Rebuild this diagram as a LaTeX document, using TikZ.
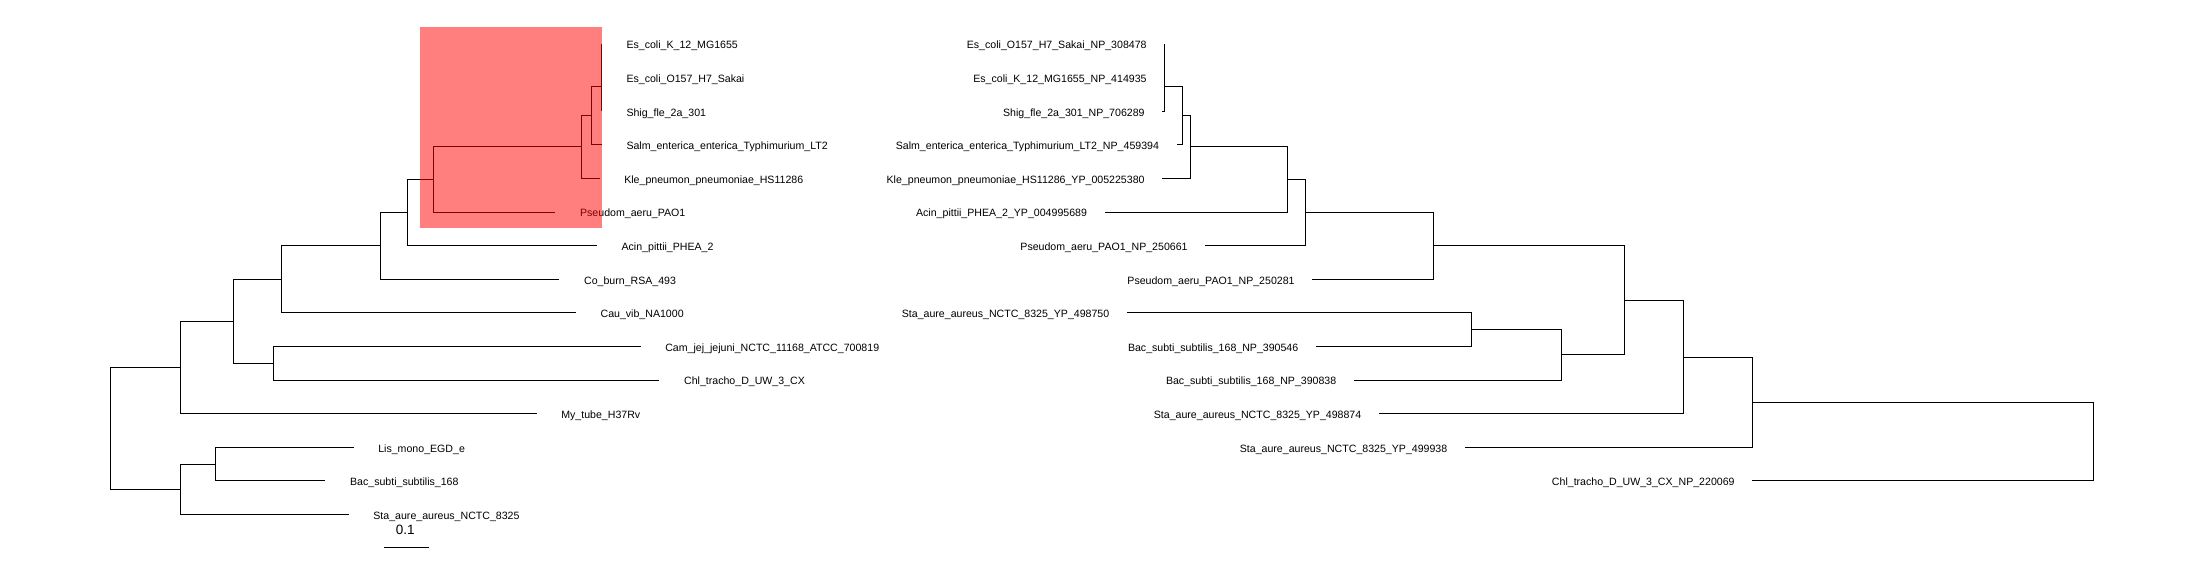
\documentclass[tikz,border=0pt]{standalone}
\usepackage{fontspec}
\setmainfont{Liberation Sans}
\usetikzlibrary{positioning}

\tikzset{
  branch/.style={line width=1pt},
  tiplabel/.style={inner sep=0pt, text height=7.6pt, text depth=0pt,
    font=\fontsize{10.6}{12}\selectfont},
}

\begin{document}
\begin{tikzpicture}[x=1pt, y=-1pt]
  % Drawing parameters
  \pgfmathsetmacro{\ytop}{44}
  \pgfmathsetmacro{\dy}{33.6}
  \pgfmathsetmacro{\gapl}{24.5}
  \pgfmathsetmacro{\gapr}{17.5}

  \useasboundingbox (0,0) rectangle (2200,579);

  % Left tree, tips
  \coordinate (ecoliK) at (601.8, \ytop);
  \coordinate (ecoliO) at (601.8, \ytop+\dy);
  \coordinate (shig) at (601.8, \ytop+2*\dy);
  \coordinate (salm) at (601.8, \ytop+3*\dy);
  \coordinate (kle) at (599.6, \ytop+4*\dy);
  \coordinate (pseudo) at (555.4, \ytop+5*\dy);
  \coordinate (acin) at (596.9, \ytop+6*\dy);
  \coordinate (coxb) at (559.4, \ytop+7*\dy);
  \coordinate (cauvib) at (575.9, \ytop+8*\dy);
  \coordinate (camjej) at (640.6, \ytop+9*\dy);
  \coordinate (chl) at (659.4, \ytop+10*\dy);
  \coordinate (mytub) at (536.6, \ytop+11*\dy);
  \coordinate (lismo) at (353.6, \ytop+12*\dy);
  \coordinate (bacsu) at (325.4, \ytop+13*\dy);
  \coordinate (staau) at (348.7, \ytop+14*\dy);

  % Left tree, inner nodes
  \coordinate (a1) at (601.8, 60.8);
  \coordinate (a2) at (601.8, 86);
  \coordinate (a3) at (591.5, 115.4);
  \coordinate (a4) at (581.3, 146.9);
  \coordinate (a5) at (433.5, 179.45);
  \coordinate (a6) at (407.6, 212.5);
  \coordinate (a7) at (380.4, 245.9);
  \coordinate (a8) at (281.3, 279.3);
  \coordinate (a9) at (273.7, 363.2);
  \coordinate (a10) at (233.5, 321.3);
  \coordinate (a11) at (180.4, 367.4);
  \coordinate (a12) at (215.6, 464);
  \coordinate (a13) at (180.4, 489.2);
  \coordinate (aroot) at (110.3, 428.3);

  \draw[branch] (a1) |- (ecoliK) (a1) |- (ecoliO);
  \draw[branch] (a2) |- (a1) (a2) |- (shig);
  \draw[branch] (a3) |- (a2) (a3) |- (salm);
  \draw[branch] (a4) |- (a3) (a4) |- (kle);
  \draw[branch] (a5) |- (a4) (a5) |- (pseudo);
  \draw[branch] (a6) |- (a5) (a6) |- (acin);
  \draw[branch] (a7) |- (a6) (a7) |- (coxb);
  \draw[branch] (a8) |- (a7) (a8) |- (cauvib);
  \draw[branch] (a9) |- (camjej) (a9) |- (chl);
  \draw[branch] (a10) |- (a8) (a10) |- (a9);
  \draw[branch] (a11) |- (a10) (a11) |- (mytub);
  \draw[branch] (a12) |- (lismo) (a12) |- (bacsu);
  \draw[branch] (a13) |- (a12) (a13) |- (staau);
  \draw[branch] (aroot) |- (a11) (aroot) |- (a13);

  \node[tiplabel, right=\gapl pt of ecoliK, yshift=-1pt] (ecoliK-txt) {Es\_coli\_K\_12\_MG1655};
  \node[tiplabel, right=\gapl pt of ecoliO, yshift=-1pt] (ecoliO-txt) {Es\_coli\_O157\_H7\_Sakai};
  \node[tiplabel, right=\gapl pt of shig, yshift=-1pt] (shig-txt) {Shig\_fle\_2a\_301};
  \node[tiplabel, right=\gapl pt of salm, yshift=-1pt] (salm-txt) {Salm\_enterica\_enterica\_Typhimurium\_LT2};
  \node[tiplabel, right=\gapl pt of kle, yshift=-1pt] (kle-txt) {Kle\_pneumon\_pneumoniae\_HS11286};
  \node[tiplabel, right=\gapl pt of pseudo, yshift=-1pt] (pseudo-txt) {Pseudom\_aeru\_PAO1};
  \node[tiplabel, right=\gapl pt of acin, yshift=-1pt] (acin-txt) {Acin\_pittii\_PHEA\_2};
  \node[tiplabel, right=\gapl pt of coxb, yshift=-1pt] (coxb-txt) {Co\_burn\_RSA\_493};
  \node[tiplabel, right=\gapl pt of cauvib, yshift=-1pt] (cauvib-txt) {Cau\_vib\_NA1000};
  \node[tiplabel, right=\gapl pt of camjej, yshift=-1pt] (camjej-txt) {Cam\_jej\_jejuni\_NCTC\_11168\_ATCC\_700819};
  \node[tiplabel, right=\gapl pt of chl, yshift=-1pt] (chl-txt) {Chl\_tracho\_D\_UW\_3\_CX};
  \node[tiplabel, right=\gapl pt of mytub, yshift=-1pt] (mytub-txt) {My\_tube\_H37Rv};
  \node[tiplabel, right=\gapl pt of lismo, yshift=-1pt] (lismo-txt) {Lis\_mono\_EGD\_e};
  \node[tiplabel, right=\gapl pt of bacsu, yshift=-1pt] (bacsu-txt) {Bac\_subti\_subtilis\_168};
  \node[tiplabel, right=\gapl pt of staau, yshift=-1pt] (staau-txt) {Sta\_aure\_aureus\_NCTC\_8325};

  % scale bar
  \coordinate (barL) at (383.9, 547.3);
  \coordinate (barR) at (428.6, 547.3);
  \draw[branch] (barL) -- (barR);
  \node[inner sep=0pt, font=\fontsize{13.5}{15}\selectfont] (bar-txt) at (405.3, 530.3) {0.1};

  % highlighted clade
  \fill[red, opacity=0.5] (420.1, 27) rectangle (601.8, 228);

  % Right tree, tips
  \coordinate (ecoliO2) at (1164.3, \ytop);
  \coordinate (ecoliK2) at (1164.3, \ytop+\dy);
  \coordinate (shig2) at (1162.3, \ytop+2*\dy);
  \coordinate (salm2) at (1176.7, \ytop+3*\dy);
  \coordinate (kle2) at (1162.3, \ytop+4*\dy);
  \coordinate (acin2) at (1104.7, \ytop+5*\dy);
  \coordinate (pseudoA) at (1205.3, \ytop+6*\dy);
  \coordinate (pseudoB) at (1312.3, \ytop+7*\dy);
  \coordinate (staauA) at (1127, \ytop+8*\dy);
  \coordinate (bacsuA) at (1316, \ytop+9*\dy);
  \coordinate (bacsuB) at (1354, \ytop+10*\dy);
  \coordinate (staauB) at (1379, \ytop+11*\dy);
  \coordinate (staauC) at (1465, \ytop+12*\dy);
  \coordinate (chl2) at (1752.3, \ytop+13*\dy);

  % Right tree, inner nodes
  \coordinate (b1) at (1164.3, 60.8);
  \coordinate (b2) at (1164.3, 86);
  \coordinate (b3) at (1182.3, 115.4);
  \coordinate (b4) at (1190.3, 146.9);
  \coordinate (b5) at (1287.3, 179.45);
  \coordinate (b6) at (1305.3, 212.5);
  \coordinate (b7) at (1433.3, 245.9);
  \coordinate (b8) at (1471.3, 329.6);
  \coordinate (b9) at (1561.3, 354.8);
  \coordinate (b10) at (1624.3, 300.35);
  \coordinate (b11) at (1683.3, 357);
  \coordinate (b12) at (1752.3, 402.1);
  \coordinate (broot) at (2093.7, 441.5);

  \draw[branch] (b1) |- (ecoliO2) (b1) |- (ecoliK2);
  \draw[branch] (b2) |- (b1) (b2) |- (shig2);
  \draw[branch] (b3) |- (b2) (b3) |- (salm2);
  \draw[branch] (b4) |- (b3) (b4) |- (kle2);
  \draw[branch] (b5) |- (b4) (b5) |- (acin2);
  \draw[branch] (b6) |- (b5) (b6) |- (pseudoA);
  \draw[branch] (b7) |- (b6) (b7) |- (pseudoB);
  \draw[branch] (b8) |- (staauA) (b8) |- (bacsuA);
  \draw[branch] (b9) |- (b8) (b9) |- (bacsuB);
  \draw[branch] (b10) |- (b7) (b10) |- (b9);
  \draw[branch] (b11) |- (b10) (b11) |- (staauB);
  \draw[branch] (b12) |- (b11) (b12) |- (staauC);
  \draw[branch] (broot) |- (b12) (broot) |- (chl2);

  \node[tiplabel, left=\gapr pt of ecoliO2, yshift=-1pt] (ecoliO2-txt) {Es\_coli\_O157\_H7\_Sakai\_NP\_308478};
  \node[tiplabel, left=\gapr pt of ecoliK2, yshift=-1pt] (ecoliK2-txt) {Es\_coli\_K\_12\_MG1655\_NP\_414935};
  \node[tiplabel, left=\gapr pt of shig2, yshift=-1pt] (shig2-txt) {Shig\_fle\_2a\_301\_NP\_706289};
  \node[tiplabel, left=\gapr pt of salm2, yshift=-1pt] (salm2-txt) {Salm\_enterica\_enterica\_Typhimurium\_LT2\_NP\_459394};
  \node[tiplabel, left=\gapr pt of kle2, yshift=-1pt] (kle2-txt) {Kle\_pneumon\_pneumoniae\_HS11286\_YP\_005225380};
  \node[tiplabel, left=\gapr pt of acin2, yshift=-1pt] (acin2-txt) {Acin\_pittii\_PHEA\_2\_YP\_004995689};
  \node[tiplabel, left=\gapr pt of pseudoA, yshift=-1pt] (pseudoA-txt) {Pseudom\_aeru\_PAO1\_NP\_250661};
  \node[tiplabel, left=\gapr pt of pseudoB, yshift=-1pt] (pseudoB-txt) {Pseudom\_aeru\_PAO1\_NP\_250281};
  \node[tiplabel, left=\gapr pt of staauA, yshift=-1pt] (staauA-txt) {Sta\_aure\_aureus\_NCTC\_8325\_YP\_498750};
  \node[tiplabel, left=\gapr pt of bacsuA, yshift=-1pt] (bacsuA-txt) {Bac\_subti\_subtilis\_168\_NP\_390546};
  \node[tiplabel, left=\gapr pt of bacsuB, yshift=-1pt] (bacsuB-txt) {Bac\_subti\_subtilis\_168\_NP\_390838};
  \node[tiplabel, left=\gapr pt of staauB, yshift=-1pt] (staauB-txt) {Sta\_aure\_aureus\_NCTC\_8325\_YP\_498874};
  \node[tiplabel, left=\gapr pt of staauC, yshift=-1pt] (staauC-txt) {Sta\_aure\_aureus\_NCTC\_8325\_YP\_499938};
  \node[tiplabel, left=\gapr pt of chl2, yshift=-1pt] (chl2-txt) {Chl\_tracho\_D\_UW\_3\_CX\_NP\_220069};

\end{tikzpicture}
\end{document}
